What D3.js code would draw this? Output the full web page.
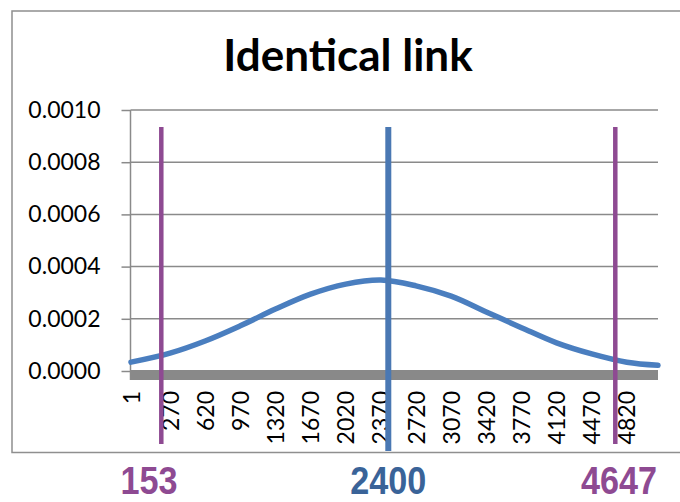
<!DOCTYPE html>
<html>
<head>
<meta charset="utf-8">
<script src="https://cdn.jsdelivr.net/npm/d3@7"></script>
<style>
  html, body { margin: 0; padding: 0; background: #fff; }
  svg { display: block; }
</style>
</head>
<body>
<div id="chart"></div>
<script>
// ---- data ----
const chartTitle = "Identical link";
const xCategories = [1, 270, 620, 970, 1320, 1670, 2020, 2370, 2720, 3070, 3420, 3770, 4120, 4470, 4820, 5130];
const densityValues = [0.0000340, 0.0000686, 0.0001151, 0.0001732, 0.0002371, 0.0002944, 0.0003330, 0.0003488,
                       0.0003264, 0.0002869, 0.0002265, 0.0001660, 0.0001077, 0.0000653, 0.0000336, 0.0000218];
const xTickLabels = [1, 270, 620, 970, 1320, 1670, 2020, 2370, 2720, 3070, 3420, 3770, 4120, 4470, 4820];
const yTickValues = [0, 0.0002, 0.0004, 0.0006, 0.0008, 0.0010];
const boundValues = [153, 4647];   // purple interval bounds
const centerValue = 2400;          // blue centre line

// ---- layout ----
const W = 680, H = 502;
const svg = d3.select("#chart").append("svg").attr("width", W).attr("height", H);

const plotLeft = 130.5, plotRight = 658, plotTop = 110, plotBottom = 371;
const x = d3.scaleLinear().domain([1, 270, 5130]).range([131, 170, 658]);
const y = d3.scaleLinear().domain([0, 0.001]).range([plotBottom, plotTop]);
// overlay (hand-placed marker lines) scale
const xm = d3.scaleLinear().domain([153, 4647]).range([161.3, 615.3]);

const gray = "#8a8a8a";
const labelFont = "Lato, 'Open Sans', sans-serif";

// chart frame
svg.append("rect").attr("x", 12).attr("y", 11).attr("width", 700).attr("height", 441.5)
  .attr("fill", "none").attr("stroke", "#8f8f8f").attr("stroke-width", 1.5);

// title
svg.append("text").attr("x", 348).attr("y", 71).attr("text-anchor", "middle")
  .attr("font-family", labelFont).attr("font-weight", 700).attr("font-size", 44)
  .attr("fill", "#000").text(chartTitle);

// gridlines + y axis
const yAxis = d3.axisLeft(y).tickValues(yTickValues).tickSize(9).tickFormat(d3.format(".4f"));
const gy = svg.append("g").attr("transform", `translate(${plotLeft},0)`).call(yAxis);
gy.select(".domain").attr("stroke", gray).attr("stroke-width", 1.5)
  .attr("d", `M0,${plotTop}V${plotBottom + 9}`);
gy.selectAll(".tick line").attr("stroke", gray).attr("stroke-width", 1.5);
gy.selectAll(".tick text").attr("x", -30).attr("font-family", labelFont)
  .attr("font-size", 23).attr("fill", "#000");
svg.append("g").selectAll("line").data(yTickValues.filter(d => d > 0)).join("line")
  .attr("x1", plotLeft).attr("x2", plotRight)
  .attr("y1", d => y(d)).attr("y2", d => y(d))
  .attr("stroke", gray).attr("stroke-width", 1.5);

// thick x-axis bar
svg.append("rect").attr("x", plotLeft).attr("y", plotBottom - 1)
  .attr("width", plotRight - plotLeft).attr("height", 10).attr("fill", "#898989");

// x axis labels
const xAxis = d3.axisBottom(x).tickValues(xTickLabels).tickSize(0).tickFormat(d3.format("d"));
const gx = svg.append("g").attr("transform", `translate(0,${plotBottom + 9})`).call(xAxis);
gx.select(".domain").remove();
gx.selectAll(".tick text")
  .attr("transform", "rotate(-90)")
  .attr("text-anchor", "end")
  .attr("x", -11).attr("y", 0).attr("dy", "0.35em")
  .attr("font-family", labelFont).attr("font-size", 23).attr("fill", "#000");

// density curve
const line = d3.line().x((d, i) => x(xCategories[i])).y(d => y(d)).curve(d3.curveCatmullRom.alpha(0.5));
svg.append("path").datum(densityValues).attr("d", line)
  .attr("fill", "none").attr("stroke", "#4a7ebf").attr("stroke-width", 5.5)
  .attr("stroke-linecap", "round");

// centre line with glow
const defs = svg.append("defs");
const f = defs.append("filter").attr("id", "glow").attr("x", "-200%").attr("width", "500%");
f.append("feGaussianBlur").attr("stdDeviation", 2.5);
svg.append("line").attr("x1", xm(centerValue)).attr("x2", xm(centerValue))
  .attr("y1", 124).attr("y2", 454).attr("stroke", "#9fb8d9").attr("stroke-width", 12)
  .attr("filter", "url(#glow)");
svg.append("line").attr("x1", xm(centerValue)).attr("x2", xm(centerValue))
  .attr("y1", 127).attr("y2", 451).attr("stroke", "#4a78b3").attr("stroke-width", 6);

// purple bound lines
svg.append("g").selectAll("line").data(boundValues).join("line")
  .attr("x1", d => xm(d)).attr("x2", d => xm(d))
  .attr("y1", 127).attr("y2", 444)
  .attr("stroke", "#8e4a92").attr("stroke-width", 4.5);

// bottom value labels
const labelData = [
  { v: boundValues[0], color: "#8e4a92", anchor: "start", xpos: 120.5 },
  { v: centerValue, color: "#3a6398", anchor: "middle", xpos: xm(centerValue) },
  { v: boundValues[1], color: "#8e4a92", anchor: "end", xpos: 657 }
];
svg.append("g").selectAll("text").data(labelData).join("text")
  .attr("transform", d => `translate(${d.xpos},494) scale(0.9,1)`)
  .attr("text-anchor", d => d.anchor)
  .attr("font-family", "'Liberation Sans', Arial, sans-serif").attr("font-weight", 700)
  .attr("font-size", 38).attr("fill", d => d.color)
  .text(d => d.v);
</script>
</body>
</html>
